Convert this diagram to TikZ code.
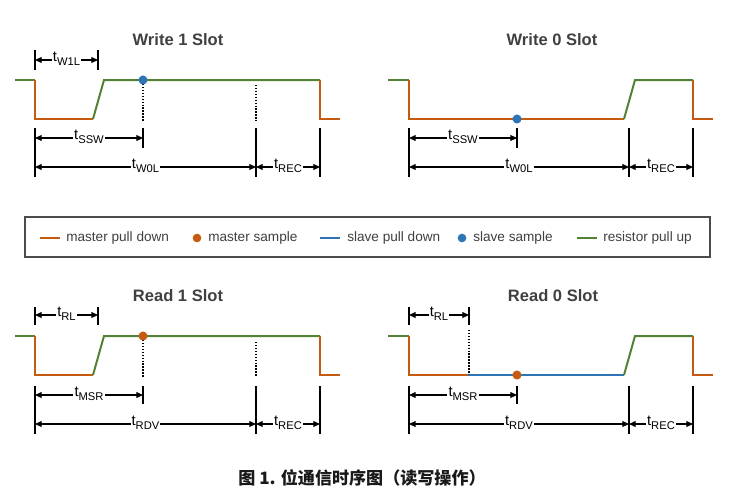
\documentclass[tikz,border=0pt]{standalone}
\usepackage{fontspec}
\setmainfont{Liberation Sans}
\newfontfamily\cjk{Noto Sans CJK SC}
\usetikzlibrary{arrows.meta}
\definecolor{mo}{HTML}{C55A11}
\definecolor{rg}{HTML}{548235}
\definecolor{sb}{HTML}{2E75B6}
\definecolor{tg}{HTML}{404040}
\newcommand\tsub[1]{t\raisebox{-3pt}{\fontsize{8.4}{8}\selectfont #1}}
\newcommand\dimarrow[5]{%
  \coordinate (#1a) at (#2,#4);
  \coordinate (#1b) at (#3,#4);
  \draw[dimarr] (#1a) -- node[lbl] (#1l) {#5} (#1b);}
\newcommand\dimtick[3]{\draw[dimbar] (#1,#2) -- (#1,#3);}
\begin{document}
\begin{tikzpicture}[x=0.75pt,y=-0.75pt,
  sig/.style={line width=1.5pt, line join=miter},
  dimbar/.style={line width=0.95pt, black},
  dimarr/.style={line width=0.85pt, {Triangle[length=5pt,width=4.4pt]}-{Triangle[length=5pt,width=4.4pt]}},
  lbl/.style={fill=white, inner sep=0.8pt, yshift=0.6pt, font=\fontsize{11}{12}\selectfont},
  dots/.style={line width=0.9pt, dash pattern=on 1.1pt off 1.1pt},
  ttl/.style={font=\fontsize{12.4}{14}\selectfont\bfseries, text=tg},
  dotmark/.style={circle, inner sep=0pt, minimum size=6.8pt},
  legtxt/.style={anchor=west, inner sep=0pt, font=\fontsize{10.2}{12}\selectfont, text=tg}]
\useasboundingbox (0,0) rectangle (732,501);
\fill[white] (0,0) rectangle (732,501);

% ---------- Write 1 Slot ----------
\node[ttl] (t1) at (178,40) {Write 1 Slot};
\draw[sig, rg] (15,80) -- (35,80);
\draw[sig, mo] (35,80) -- (35,119) -- (93,119);
\draw[sig, rg] (93,119) -- (104,80) -- (320,80);
\draw[sig, mo] (320,80) -- (320,119) -- (340,119);
\draw[dots] (143,84) -- (143,121);
\draw[dots] (256,85) -- (256,121);
\node[dotmark, fill=sb] (d1) at (143,80) {};
\dimtick{35}{50}{70}\dimtick{98}{50}{70}
\dimarrow{wa}{35}{98}{60}{\tsub{W1L}}
\dimtick{35}{128}{177}\dimtick{143}{128}{148}\dimtick{256}{128}{177}\dimtick{320}{128}{177}
\dimarrow{wb}{35}{143}{138}{\tsub{SSW}}
\dimarrow{wc}{35}{256}{167}{\tsub{W0L}}
\dimarrow{wd}{256}{320}{167}{\tsub{REC}}

% ---------- Write 0 Slot ----------
\node[ttl] (t2) at (552,40) {Write 0 Slot};
\draw[sig, rg] (388,80) -- (409,80);
\draw[sig, mo] (409,80) -- (409,119) -- (624,119);
\draw[sig, rg] (624,119) -- (635,80) -- (693,80);
\draw[sig, mo] (693,80) -- (693,119) -- (713,119);
\node[dotmark, fill=sb] (d2) at (517,119) {};
\dimtick{409}{128}{177}\dimtick{517}{128}{148}\dimtick{629}{128}{177}\dimtick{693}{128}{177}
\dimarrow{xb}{409}{517}{138}{\tsub{SSW}}
\dimarrow{xc}{409}{629}{167}{\tsub{W0L}}
\dimarrow{xd}{629}{693}{167}{\tsub{REC}}

% ---------- Legend ----------
\draw[line width=0.8pt, black!70] (25,217) rectangle (710,257);
\draw[sig, mo] (40,238) -- (60,238);
\node[legtxt] (l1) at (66,238) {master pull down};
\node[dotmark, fill=mo, minimum size=6.5pt] (l2d) at (197,238) {};
\node[legtxt] (l2) at (208,238) {master sample};
\draw[sig, sb] (320,238) -- (340,238);
\node[legtxt] (l3) at (347,238) {slave pull down};
\node[dotmark, fill=sb, minimum size=6.5pt] (l4d) at (462,238) {};
\node[legtxt] (l4) at (473,238) {slave sample};
\draw[sig, rg] (577,238) -- (597,238);
\node[legtxt] (l5) at (603,238) {resistor pull up};

% ---------- Read 1 Slot ----------
\node[ttl] (t3) at (178,296) {Read 1 Slot};
\draw[sig, rg] (15,336) -- (35,336);
\draw[sig, mo] (35,336) -- (35,375) -- (93,375);
\draw[sig, rg] (93,375) -- (104,336) -- (320,336);
\draw[sig, mo] (320,336) -- (320,375) -- (340,375);
\draw[dots] (143,340) -- (143,377);
\draw[dots] (256,342) -- (256,377);
\node[dotmark, fill=mo] (d3) at (143,336) {};
\dimtick{35}{307}{325}\dimtick{98}{307}{325}
\dimarrow{ra}{35}{98}{315}{\tsub{RL}}
\dimtick{35}{386}{434}\dimtick{143}{386}{404}\dimtick{256}{386}{434}\dimtick{320}{386}{434}
\dimarrow{rb}{35}{143}{395}{\tsub{MSR}}
\dimarrow{rc}{35}{256}{424}{\tsub{RDV}}
\dimarrow{rd}{256}{320}{424}{\tsub{REC}}

% ---------- Read 0 Slot ----------
\node[ttl] (t4) at (553,296) {Read 0 Slot};
\draw[sig, rg] (388,336) -- (409,336);
\draw[sig, mo] (409,336) -- (409,375) -- (468,375);
\draw[sig, sb] (468,375) -- (624,375);
\draw[sig, rg] (624,375) -- (635,336) -- (693,336);
\draw[sig, mo] (693,336) -- (693,375) -- (713,375);
\draw[dots] (469,330) -- (469,374);
\node[dotmark, fill=mo] (d4) at (517,375) {};
\dimtick{409}{307}{325}\dimtick{469}{307}{325}
\dimarrow{sa}{409}{469}{315}{\tsub{RL}}
\dimtick{409}{386}{434}\dimtick{517}{386}{404}\dimtick{629}{386}{434}\dimtick{693}{386}{434}
\dimarrow{sb}{409}{517}{395}{\tsub{MSR}}
\dimarrow{sc}{409}{629}{424}{\tsub{RDV}}
\dimarrow{sd}{629}{693}{424}{\tsub{REC}}

% ---------- Caption ----------
\node[font=\cjk\fontsize{12.8}{14}\selectfont\bfseries, text=black!90] (cap) at (362,478) {图 1. 位通信时序图（读写操作）};
\end{tikzpicture}
\end{document}
